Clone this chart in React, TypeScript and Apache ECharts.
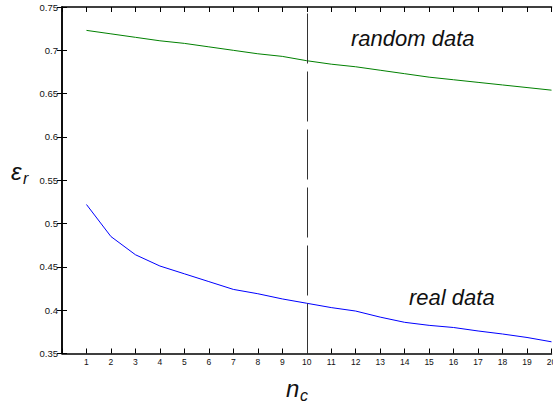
import React, { useEffect, useRef } from "react";
import * as echarts from "echarts";

const xValues = [1, 2, 3, 4, 5, 6, 7, 8, 9, 10, 11, 12, 13, 14, 15, 16, 17, 18, 19, 20];
const randomData = [0.723, 0.719, 0.715, 0.711, 0.708, 0.704, 0.700, 0.696, 0.693, 0.688, 0.684, 0.681, 0.677, 0.673, 0.669, 0.666, 0.663, 0.660, 0.657, 0.654];
const realData = [0.522, 0.485, 0.464, 0.451, 0.442, 0.433, 0.424, 0.419, 0.413, 0.408, 0.403, 0.399, 0.392, 0.386, 0.3825, 0.380, 0.376, 0.3725, 0.3685, 0.3635];
const markX = 10;
const yMin = 0.35;
const yMax = 0.75;
const yStep = 0.05;
const xMin = 0;
const xMax = 20;

const FONT = "'Liberation Sans', Arial, Helvetica, sans-serif";

export default function App() {
  const ref = useRef<HTMLDivElement>(null);
  useEffect(() => {
    if (!ref.current) return;
    const chart = echarts.init(ref.current, null, { renderer: "svg" });
    const axisLine = { show: true, lineStyle: { color: "#000", width: 1.5 } };
    const tick = { show: true, inside: true, length: 5, lineStyle: { color: "#000", width: 1 } };
    chart.setOption({
      animation: false,
      backgroundColor: "#fff",
      grid: {
        left: 62,
        right: 1.5,
        top: 7,
        bottom: 51.5,
        containLabel: false,
        outerBoundsMode: "none",
      },
      xAxis: [
        {
          type: "value",
          min: xMin,
          max: xMax,
          interval: 1,
          position: "bottom",
          axisLine,
          axisTick: tick,
          splitLine: { show: false },
          axisLabel: {
            margin: 4,
            fontSize: 8.5,
            color: "#111",
            fontFamily: FONT,
            formatter: (v: number) => (v === 0 ? "" : String(v)),
          },
        },
        {
          type: "value",
          min: xMin,
          max: xMax,
          interval: 1,
          position: "top",
          axisLine,
          axisTick: tick,
          splitLine: { show: false },
          axisLabel: { show: false },
        },
      ],
      yAxis: [
        {
          type: "value",
          min: yMin,
          max: yMax,
          interval: yStep,
          position: "left",
          axisLine,
          axisTick: tick,
          splitLine: { show: false },
          axisLabel: {
            margin: 4,
            fontSize: 9.5,
            color: "#111",
            fontFamily: FONT,
          },
        },
        {
          type: "value",
          min: yMin,
          max: yMax,
          interval: yStep,
          position: "right",
          axisLine,
          axisTick: tick,
          splitLine: { show: false },
          axisLabel: { show: false },
        },
      ],
      series: [
        {
          type: "line",
          name: "random data",
          data: xValues.map((x, i) => [x, randomData[i]]),
          symbol: "none",
          lineStyle: { color: "#008000", width: 1 },
          markLine: {
            silent: true,
            symbol: "none",
            label: { show: false },
            lineStyle: { color: "#333", width: 1, type: [50, 8] },
            data: [[{ coord: [markX, yMin] }, { coord: [markX, yMax] }]],
          },
        },
        {
          type: "line",
          name: "real data",
          data: xValues.map((x, i) => [x, realData[i]]),
          symbol: "none",
          lineStyle: { color: "#0000ff", width: 1 },
        },
      ],
      graphic: [
        {
          type: "text",
          left: 351,
          top: 27,
          style: { text: "random data", font: `italic 22px ${FONT}`, fill: "#111" },
        },
        {
          type: "text",
          left: 409,
          top: 286,
          style: { text: "real data", font: `italic 22px ${FONT}`, fill: "#111" },
        },
        {
          type: "text",
          left: 286,
          top: 376,
          style: { text: "n", font: `italic 24px ${FONT}`, fill: "#111" },
        },
        {
          type: "text",
          left: 300,
          top: 387,
          style: { text: "c", font: `italic 16px ${FONT}`, fill: "#111" },
        },
        {
          type: "text",
          left: 11,
          top: 159,
          style: { text: "ε", font: `italic 24px ${FONT}`, fill: "#111" },
        },
        {
          type: "text",
          left: 23,
          top: 170,
          style: { text: "r", font: `italic 16px ${FONT}`, fill: "#111" },
        },
      ],
    });
    return () => chart.dispose();
  }, []);
  return (
    <div
      ref={ref}
      style={{ position: "absolute", left: 0, top: 0, width: 553, height: 405, background: "#fff" }}
    />
  );
}
